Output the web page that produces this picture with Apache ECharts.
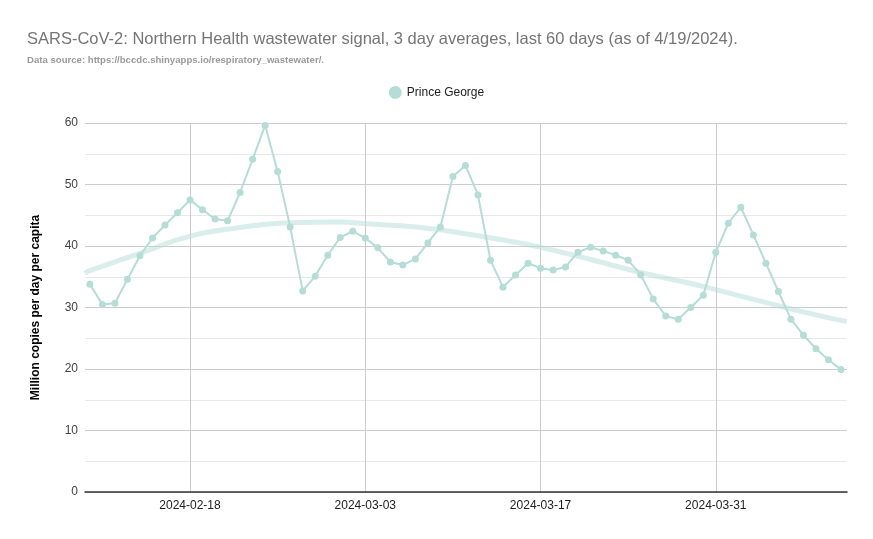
<!DOCTYPE html>
<html>
<head>
<meta charset="utf-8">
<script src="https://cdn.jsdelivr.net/npm/echarts@6/dist/echarts.min.js"></script>
<style>html,body{margin:0;padding:0;background:#fff}#c{width:873px;height:539px}</style>
</head>
<body>
<div id="c"></div>
<script>
var dates = [
 '2024-02-10','2024-02-11','2024-02-12','2024-02-13','2024-02-14','2024-02-15','2024-02-16','2024-02-17','2024-02-18','2024-02-19',
 '2024-02-20','2024-02-21','2024-02-22','2024-02-23','2024-02-24','2024-02-25','2024-02-26','2024-02-27','2024-02-28','2024-02-29',
 '2024-03-01','2024-03-02','2024-03-03','2024-03-04','2024-03-05','2024-03-06','2024-03-07','2024-03-08','2024-03-09','2024-03-10',
 '2024-03-11','2024-03-12','2024-03-13','2024-03-14','2024-03-15','2024-03-16','2024-03-17','2024-03-18','2024-03-19','2024-03-20',
 '2024-03-21','2024-03-22','2024-03-23','2024-03-24','2024-03-25','2024-03-26','2024-03-27','2024-03-28','2024-03-29','2024-03-30',
 '2024-03-31','2024-04-01','2024-04-02','2024-04-03','2024-04-04','2024-04-05','2024-04-06','2024-04-07','2024-04-08','2024-04-09',
 '2024-04-10'];
var princeGeorge = [
 33.8,30.5,30.7,34.6,38.4,41.3,43.4,45.4,47.5,45.9,
 44.4,44.1,48.7,54.1,59.6,52.1,43.1,32.7,35.1,38.5,
 41.4,42.4,41.3,39.7,37.4,36.9,37.9,40.5,43.1,51.3,
 53.1,48.3,37.7,33.3,35.3,37.2,36.4,36.1,36.6,39.0,
 39.8,39.2,38.5,37.7,35.3,31.4,28.6,28.1,30.0,32.0,
 39.0,43.7,46.3,41.8,37.2,32.6,28.1,25.5,23.3,21.5,
 19.9];
var trendDates = ['2024-02-09 14:00','2024-02-10','2024-02-14','2024-02-18','2024-02-22','2024-02-26','2024-03-01','2024-03-03','2024-03-07','2024-03-11','2024-03-15','2024-03-17','2024-03-21','2024-03-25','2024-03-29','2024-03-31','2024-04-04','2024-04-08','2024-04-10 11:00'];
var trendValues = [35.6,36.0,38.8,41.6,43.0,43.8,43.9,43.6,43.1,42.0,40.6,39.8,37.8,35.7,33.9,32.9,30.8,28.8,27.7];
var xTicks = ['2024-02-18','2024-03-03','2024-03-17','2024-03-31'];
var yTickLabels = [0,10,20,30,40,50,60];

function toTime(s){
  var p = s.split(/[- :]/).map(Number);
  return new Date(p[0], p[1]-1, p[2], p[3]||0, p[4]||0).getTime();
}
function pad(n){return (n<10?'0':'')+n;}

var chart = echarts.init(document.getElementById('c'), null, {renderer:'canvas'});
chart.setOption({
  animation: false,
  backgroundColor: '#fff',
  title: {
    text: 'SARS-CoV-2: Northern Health wastewater signal, 3 day averages, last 60 days (as of 4/19/2024).',
    subtext: 'Data source: https://bccdc.shinyapps.io/respiratory_wastewater/.',
    left: 22, top: 26, itemGap: 7,
    textStyle: {fontFamily: 'Liberation Sans, Arial', fontSize: 16.5, fontWeight: 'normal', color: '#757575'},
    subtextStyle: {fontFamily: 'Liberation Sans, Arial', fontSize: 9.6, fontWeight: 'bold', color: '#9a9a9a'}
  },
  legend: {
    data: ['Prince George'],
    top: 81, left: 'center',
    icon: 'circle', itemWidth: 13, itemHeight: 13, itemGap: 6,
    textStyle: {fontFamily: 'Liberation Sans, Arial', fontSize: 12, color: '#222'}
  },
  grid: {left: 85, right: 26, top: 123, bottom: 47, containLabel: false},
  xAxis: {
    type: 'value',
    min: toTime('2024-02-09 14:40'),
    max: toTime('2024-04-10 11:30'),
    axisLine: {show: true, onZero: false, lineStyle: {color: '#333', width: 1.5}},
    axisTick: {show: false, customValues: xTicks.map(toTime)},
    axisLabel: {
      customValues: xTicks.map(toTime),
      fontFamily: 'Liberation Sans, Arial', fontSize: 12, color: '#222', margin: 8,
      formatter: function(v){var d=new Date(v);return d.getFullYear()+'-'+pad(d.getMonth()+1)+'-'+pad(d.getDate());}
    },
    splitLine: {show: true, lineStyle: {color: '#cccccc', width: 1}}
  },
  yAxis: {
    type: 'value', min: 0, max: 60, interval: 5,
    name: 'Million copies per day per capita',
    nameLocation: 'middle', nameGap: 43,
    nameTextStyle: {fontFamily: 'Liberation Sans, Arial', fontSize: 12, fontWeight: 'bold', color: '#000'},
    axisLine: {show: false}, axisTick: {show: false},
    axisLabel: {
      fontFamily: 'Liberation Sans, Arial', fontSize: 12, color: '#444', margin: 7,
      formatter: function(v){return yTickLabels.indexOf(v) >= 0 ? String(v) : '';}
    },
    splitLine: {show: true, lineStyle: {color: ['#cccccc','#e8e8e8'], width: 1}}
  },
  series: [
    {
      name: 'Trend', type: 'line', smooth: true, showSymbol: false, silent: true, z: 1,
      data: trendDates.map(function(d,i){return [toTime(d), trendValues[i]];}),
      lineStyle: {color: '#b4ddd6', width: 5, opacity: 0.5}
    },
    {
      name: 'Prince George', type: 'line', z: 3,
      data: dates.map(function(d,i){return [toTime(d), princeGeorge[i]];}),
      symbol: 'circle', symbolSize: 7, showAllSymbol: true,
      itemStyle: {color: '#b4ddd6'},
      lineStyle: {color: '#b4ddd6', width: 2}
    }
  ]
});
</script>
</body>
</html>
